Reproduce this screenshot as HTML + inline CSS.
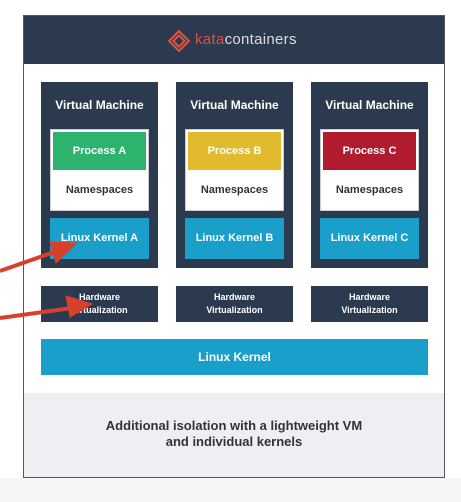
<!DOCTYPE html>
<html><head><style>
body{margin:0;width:461px;height:502px;background:#fff;position:relative;overflow:hidden;font-family:"Liberation Sans",sans-serif;font-weight:bold}
div{position:absolute;box-sizing:border-box}
.vm{background:#2c3a4f;width:117px;top:82px;height:186px}
.vt{color:#fff;font-size:12px;width:100%;text-align:center;top:16px}
.pb{background:#fff;left:9px;width:99px;top:47px;height:82px;border:1px solid #ccc}
.pc{left:2px;right:2px;top:2px;height:38px;color:#fff;font-size:11px;text-align:center;line-height:38px}
.ns{top:54px;width:100%;text-align:center;font-size:11px;color:#333}
.lk{background:#199fca;left:9px;width:99px;top:136px;height:41px;color:#fff;font-size:11px;text-align:center;line-height:41px}
.hw{background:#2c3a4f;width:117px;top:286px;height:36px;color:#fff;font-size:9px;text-align:center;line-height:13px;padding-top:5px}
</style></head><body>
<div style="left:0;top:478px;width:461px;height:24px;background:#f5f5f5"></div>
<div style="left:23px;top:15px;width:422px;height:463px;border:1px solid #555;background:#fff"></div>
<div style="left:24px;top:16px;width:420px;height:48px;background:#2c3a4f"></div>
<svg style="position:absolute;left:166px;top:28px" width="26" height="26"><g fill="none" stroke="#e0533d" stroke-width="2"><rect x="6" y="6" width="14" height="14" transform="rotate(45 13 13)"/><rect x="9" y="9" width="8" height="8" transform="rotate(45 13 13)"/></g></svg>
<div style="left:195px;top:31px;font-size:15px;font-weight:normal;color:#ddd;letter-spacing:0.3px"><span style="color:#d9503c">kata</span>containers</div>
<div style="left:24px;top:393px;width:420px;height:84px;background:#eeeff2"></div>
<div style="left:24px;top:418px;width:420px;text-align:center;font-size:13px;color:#333;line-height:16px">Additional isolation with a lightweight VM<br>and individual kernels</div>

<div class="vm" style="left:41px"><div class="vt">Virtual Machine</div><div class="pb"><div class="pc" style="background:#2eb36f">Process A</div><div class="ns">Namespaces</div></div><div class="lk">Linux Kernel A</div></div>
<div class="vm" style="left:176px"><div class="vt">Virtual Machine</div><div class="pb"><div class="pc" style="background:#e1bb2d">Process B</div><div class="ns">Namespaces</div></div><div class="lk">Linux Kernel B</div></div>
<div class="vm" style="left:311px"><div class="vt">Virtual Machine</div><div class="pb"><div class="pc" style="background:#b11b2e">Process C</div><div class="ns">Namespaces</div></div><div class="lk">Linux Kernel C</div></div>

<div class="hw" style="left:41px">Hardware<br>Virtualization</div>
<div class="hw" style="left:176px">Hardware<br>Virtualization</div>
<div class="hw" style="left:311px">Hardware<br>Virtualization</div>
<div style="left:41px;top:339px;width:387px;height:36px;background:#199fca;color:#fff;font-size:12px;text-align:center;line-height:36px">Linux Kernel</div>

<svg style="position:absolute;left:0;top:0" width="461" height="502"><g fill="#d8402c" stroke="#d8402c">
<line x1="0" y1="271" x2="60" y2="250" stroke-width="4"/><polygon points="77,243 50,242 56,263"/>
<line x1="0" y1="318" x2="72" y2="308" stroke-width="4"/><polygon points="92,304 66,296 70,317"/>
</g></svg>
</body></html>
